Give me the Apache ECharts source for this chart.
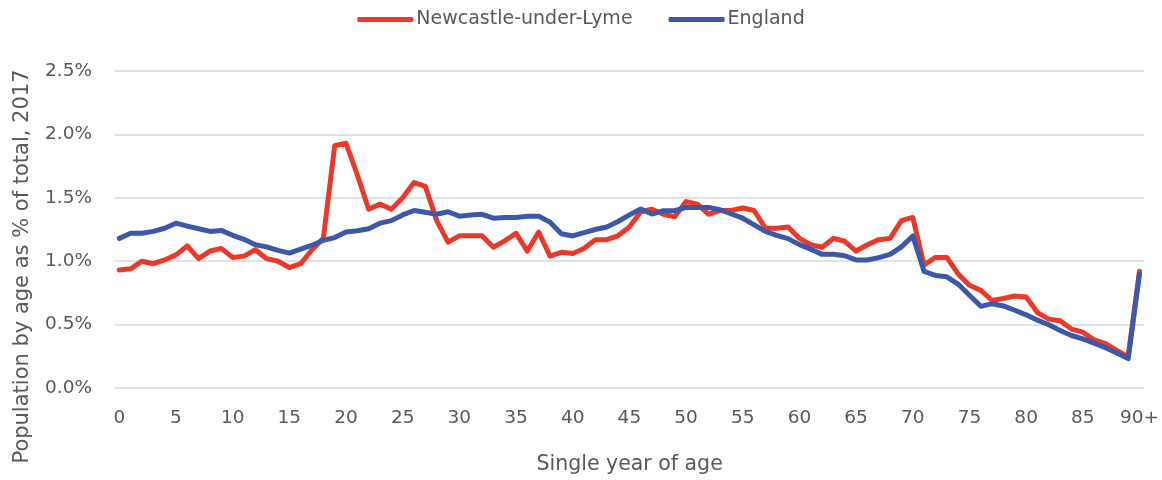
<!DOCTYPE html>
<html>
<head>
<meta charset="utf-8">
<script src="https://cdn.jsdelivr.net/npm/echarts@6/dist/echarts.min.js"></script>
<style>
  html, body { margin: 0; padding: 0; background: #fff; }
  #chart { width: 1162px; height: 480px; }
</style>
</head>
<body>
<div id="chart"></div>
<script>
// Single year of age: 0 to 89, then the 90+ group
const ages = [];
for (let a = 0; a <= 90; a++) ages.push(a);

// Age tick labels shown along the x axis
const ageTicks = [0, 5, 10, 15, 20, 25, 30, 35, 40, 45, 50, 55, 60, 65, 70, 75, 80, 85, 90];
const ageTickLabels = ['0', '5', '10', '15', '20', '25', '30', '35', '40', '45',
  '50', '55', '60', '65', '70', '75', '80', '85', '90+'];

// Share of total population at each age (%), 2017
const newcastle = [
  0.93, 0.94, 1.00, 0.98, 1.01, 1.05, 1.12, 1.02, 1.08, 1.10,
  1.03, 1.04, 1.09, 1.02, 1.00, 0.95, 0.98, 1.09, 1.18, 1.91,
  1.93, 1.68, 1.41, 1.45, 1.41, 1.50, 1.62, 1.59, 1.32, 1.15,
  1.20, 1.20, 1.20, 1.11, 1.16, 1.22, 1.08, 1.23, 1.04, 1.07,
  1.06, 1.10, 1.17, 1.17, 1.20, 1.27, 1.39, 1.41, 1.37, 1.35,
  1.47, 1.45, 1.37, 1.40, 1.40, 1.42, 1.40, 1.26, 1.26, 1.27,
  1.18, 1.13, 1.11, 1.18, 1.157, 1.08, 1.13, 1.17, 1.18, 1.32,
  1.345, 0.97, 1.03, 1.03, 0.90, 0.81, 0.77, 0.69, 0.706, 0.725,
  0.717, 0.595, 0.543, 0.53, 0.465, 0.44, 0.38, 0.35, 0.297, 0.245,
  0.92
];

const england = [
  1.18, 1.22, 1.22, 1.235, 1.26, 1.30, 1.277, 1.256, 1.235, 1.243,
  1.204, 1.173, 1.13, 1.113, 1.085, 1.064, 1.095, 1.126, 1.165, 1.186,
  1.23, 1.24, 1.256, 1.30, 1.32, 1.365, 1.40, 1.386, 1.37, 1.39,
  1.355, 1.365, 1.37, 1.339, 1.344, 1.344, 1.355, 1.355, 1.308, 1.217,
  1.199, 1.225, 1.25, 1.27, 1.313, 1.365, 1.411, 1.372, 1.398, 1.398,
  1.424, 1.424, 1.424, 1.406, 1.372, 1.339, 1.287, 1.235, 1.204, 1.178,
  1.131, 1.095, 1.054, 1.054, 1.043, 1.01, 1.01, 1.028, 1.054, 1.113,
  1.199, 0.919, 0.888, 0.877, 0.82, 0.732, 0.644, 0.665, 0.647, 0.613,
  0.577, 0.535, 0.499, 0.453, 0.414, 0.387, 0.354, 0.317, 0.276, 0.232,
  0.90
];

const FONT = '"DejaVu Sans", sans-serif';
const TEXT = '#595959';
const RED = '#e8392a';
const BLUE = '#3d58a8';

const pairs = (vals) => ages.map((a, i) => [a, vals[i]]);

const chart = echarts.init(document.getElementById('chart'), null, { renderer: 'canvas' });

chart.setOption({
  animation: false,
  backgroundColor: '#ffffff',
  textStyle: { fontFamily: FONT },
  legend: {
    top: 5,
    left: 'center',
    itemWidth: 56,
    itemHeight: 5,
    itemGap: 36,
    icon: 'roundRect',
    textStyle: { fontSize: 19, color: TEXT, fontFamily: FONT, padding: [0, 0, 0, -2] },
    data: ['Newcastle-under-Lyme', 'England']
  },
  grid: { left: 115, right: 17, top: 71, bottom: 88.5, containLabel: false },
  xAxis: {
    type: 'value',
    min: -0.38,
    max: 90.42,
    name: 'Single year of age',
    nameLocation: 'middle',
    nameGap: 66,
    nameTextStyle: { fontSize: 20.5, color: TEXT, fontFamily: FONT },
    axisLine: { show: false },
    axisTick: { show: false },
    axisLabel: {
      customValues: ageTicks,
      formatter: (v) => ageTickLabels[ageTicks.indexOf(v)],
      fontSize: 18.5,
      color: TEXT,
      margin: 21,
      fontFamily: FONT
    },
    splitLine: { show: false }
  },
  yAxis: {
    type: 'value',
    min: 0,
    max: 2.5,
    interval: 0.5,
    name: 'Population by age as % of total, 2017',
    nameLocation: 'middle',
    nameGap: 82,
    nameTextStyle: {
      fontSize: 21,
      color: TEXT,
      fontFamily: FONT,
      padding: [0, 74, 0, 0]
    },
    axisLine: { show: false },
    axisTick: { show: false },
    axisLabel: {
      formatter: (v) => v.toFixed(1) + '%',
      fontSize: 18.5,
      color: TEXT,
      margin: 23,
      fontFamily: FONT
    },
    splitLine: { lineStyle: { color: '#d9d9d9', width: 1.5 } }
  },
  series: [
    {
      name: 'Newcastle-under-Lyme',
      type: 'line',
      data: pairs(newcastle),
      symbol: 'none',
      color: RED,
      lineStyle: { width: 5, color: RED, join: 'round', cap: 'round' },
      z: 2
    },
    {
      name: 'England',
      type: 'line',
      data: pairs(england),
      symbol: 'none',
      color: BLUE,
      lineStyle: { width: 5, color: BLUE, join: 'round', cap: 'round' },
      z: 3
    }
  ]
});
</script>
</body>
</html>
